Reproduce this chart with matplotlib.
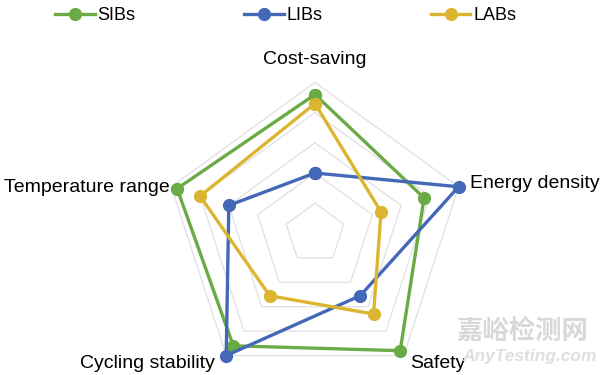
import numpy as np
import matplotlib.pyplot as plt

plt.rcParams['font.family'] = ['Liberation Sans', 'DejaVu Sans']

categories = ['Cost-saving', 'Energy density', 'Safety', 'Cycling stability', 'Temperature range']
sibs = [4.6, 3.8, 4.8, 4.6, 4.8]
libs = [2.0, 5.0, 2.55, 5.0, 3.0]
labs = [4.3, 2.3, 3.3, 2.55, 4.0]
levels = [1, 2, 3, 4, 5]

colors = {'SIBs': '#6aab45', 'LIBs': '#4468b8', 'LABs': '#dcb530'}

fig = plt.figure(figsize=(6, 3.75), dpi=100)
ax = fig.add_axes([0.2733, -0.0251, 0.5033, 0.8053], projection='polar')
ax.set_theta_offset(np.pi / 2)
ax.set_theta_direction(-1)

n = len(categories)
theta = np.linspace(0, 2 * np.pi, n, endpoint=False)
theta_c = np.append(theta, theta[0])

# pentagon grid
for lv in levels:
    ax.plot(theta_c, [lv] * (n + 1), color='#e0e0e0', lw=0.9, zorder=1, clip_on=False)

for name, vals in [('SIBs', sibs), ('LIBs', libs), ('LABs', labs)]:
    v = np.append(vals, vals[0])
    ax.plot(theta_c, v, color=colors[name], lw=2.4, marker='o', ms=8.5,
            label=name, zorder=3, clip_on=False)

ax.set_ylim(0, 5)
ax.grid(False)
ax.set_xticks([])
ax.set_yticks([])
ax.spines['polar'].set_visible(False)
ax.patch.set_visible(False)

# axis labels, offsets in pixels from the outer vertex
fs = 14
offsets = [(0, 23, 'center'), (11, 3, 'left'), (6, -8, 'left'), (-11, -8, 'right'), (-2, -1, 'right')]
for t, lab, (dx, dy, ha) in zip(theta, categories, offsets):
    ax.annotate(lab, xy=(t, 5), xytext=(dx, dy), textcoords='offset pixels',
                ha=ha, va='center', fontsize=fs, zorder=4)

fig.legend(loc='upper center', bbox_to_anchor=(0.476, 1.025), ncol=3, frameon=False,
           fontsize=13, handlelength=2.2, handletextpad=0.15, columnspacing=6.0)

# watermark
fig.text(0.98, 0.08, '嘉峪检测网', ha='right', va='bottom', fontsize=19,
         color='#d8d8d8', family=['Noto Sans CJK SC', 'DejaVu Sans'], fontweight='bold')
fig.text(0.995, 0.03, 'AnyTesting.com', ha='right', va='bottom', fontsize=12.5,
         color='#dedede', style='italic', fontweight='bold')

fig.savefig('out.png', dpi=100)
